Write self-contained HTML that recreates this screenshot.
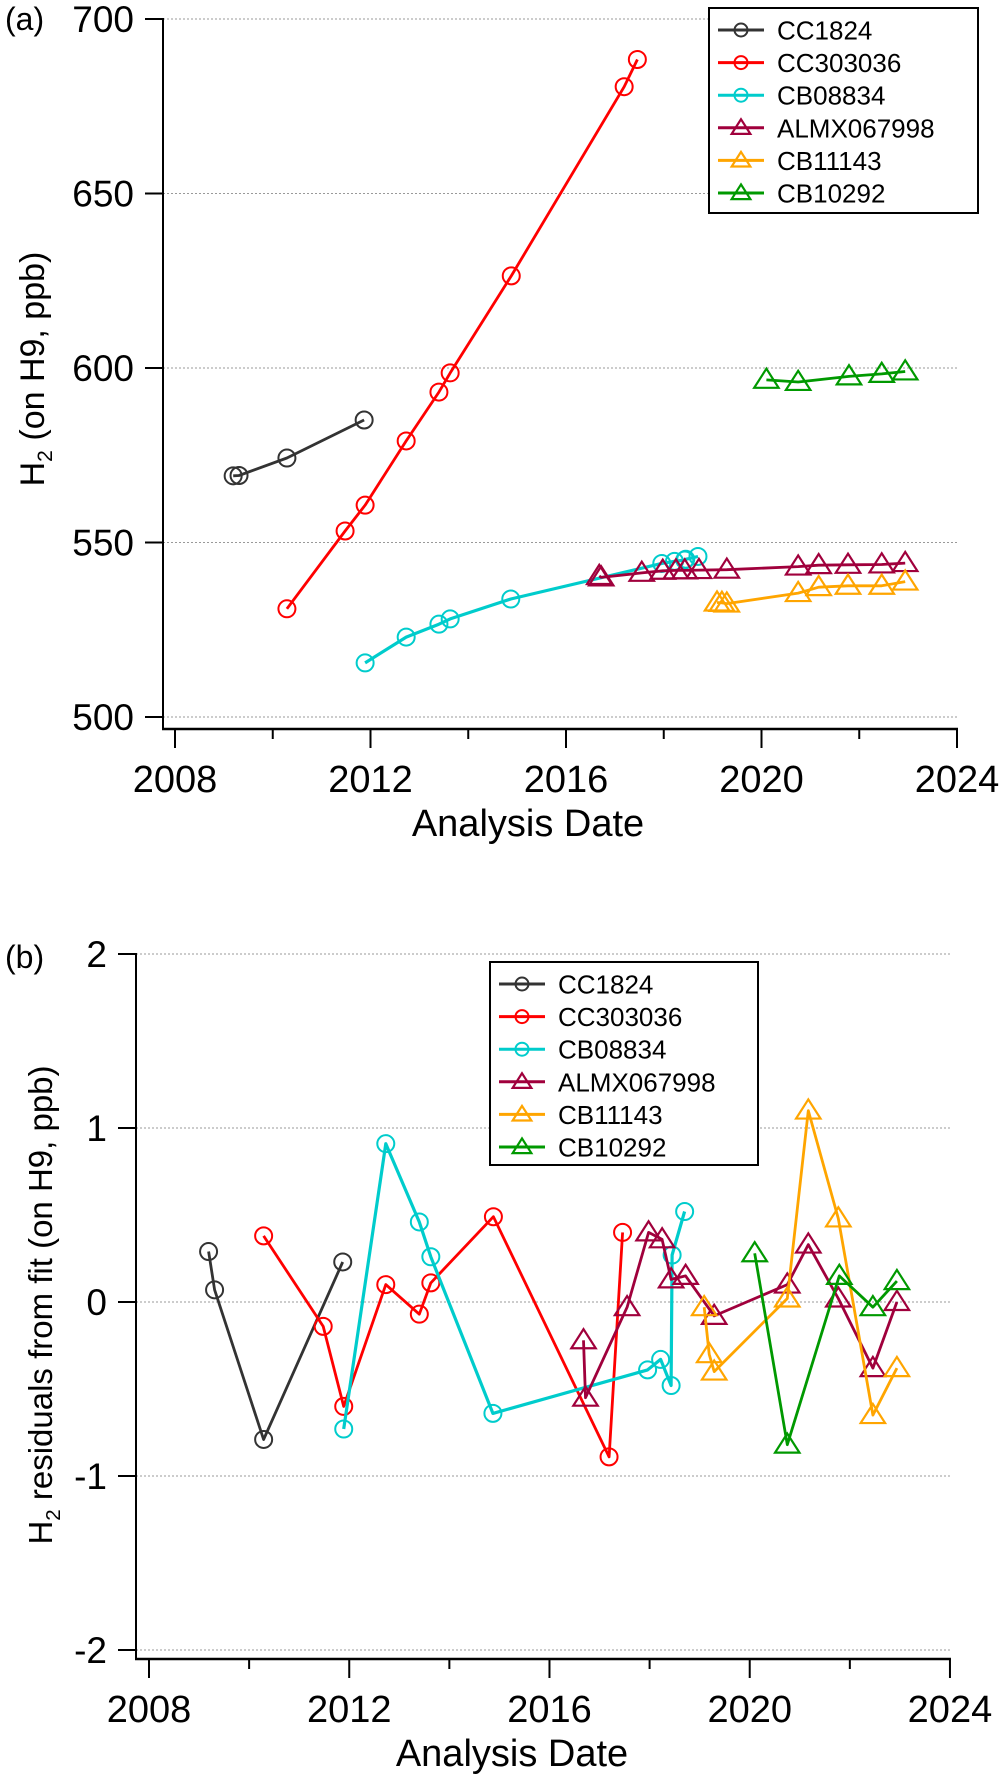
<!DOCTYPE html>
<html><head><meta charset="utf-8">
<style>
html,body{margin:0;padding:0;background:#fff;}
svg{display:block;font-family:"Liberation Sans",Arial,sans-serif;}
</style></head>
<body>
<svg id="fig" width="1004" height="1777" viewBox="0 0 1004 1777" xmlns="http://www.w3.org/2000/svg">
  <g id="panelA"></g>
  <g id="panelB"></g>
</svg>
<script>
// ---------- data ----------
const seriesNames = ["CC1824","CC303036","CB08834","ALMX067998","CB11143","CB10292"];
const seriesColors = ["#333333","#ff0000","#00cccc","#a0003c","#ffa500","#009900"];
const seriesMarkers = ["circle","circle","circle","triangle","triangle","triangle"];

const yearsCC1824 = [2009.19,2009.31,2010.29,2011.87];
const yearsCC303036 = [2010.29,2011.48,2011.89,2012.73,2013.40,2013.63,2014.88,2017.19,2017.46];
const yearsCB08834 = [2011.89,2012.73,2013.40,2013.63,2014.87,2017.96,2018.22,2018.43,2018.45,2018.70];
const yearsALMX067998 = [2016.68,2016.72,2017.55,2017.98,2018.25,2018.43,2018.72,2019.29,2020.75,2021.17,2021.77,2022.46,2022.94];
const yearsCB11143 = [2019.09,2019.19,2019.29,2020.75,2021.17,2021.77,2022.46,2022.94];
const yearsCB10292 = [2020.10,2020.75,2021.79,2022.46,2022.94];

const h2CC1824 = [569.1,569.2,574.2,585.1];
const h2CC303036 = [531.0,553.3,560.7,579.1,593.1,598.6,626.4,680.6,688.4];
const h2CB08834 = [515.5,522.9,526.6,528.1,533.8,544.0,544.6,545.0,545.2,546.0];
const h2ALMX067998 = [540.4,540.0,541.3,541.9,542.0,542.0,542.1,542.2,543.1,543.5,543.6,543.7,544.1];
const h2CB11143 = [532.8,532.7,532.5,535.5,537.2,537.6,537.6,538.8];
const h2CB10292 = [596.6,596.0,597.6,598.3,599.0];

const resCC1824 = [0.29,0.07,-0.79,0.23];
const resCC303036 = [0.38,-0.14,-0.60,0.10,-0.07,0.11,0.49,-0.89,0.40];
const resCB08834 = [-0.73,0.91,0.46,0.26,-0.64,-0.39,-0.33,-0.48,0.27,0.52];
const resALMX067998 = [-0.22,-0.55,-0.03,0.40,0.36,0.13,0.15,-0.08,0.10,0.33,0.02,-0.38,0.00];
const resCB11143 = [-0.03,-0.30,-0.40,0.02,1.10,0.48,-0.65,-0.38];
const resCB10292 = [0.28,-0.82,0.15,-0.03,0.12];

const xTicksMajor = [2008,2012,2016,2020,2024];
const xTicksMinor = [2010,2014,2018,2022];
const yTicksA = [500,550,600,650,700];
const yTicksB = [-2,-1,0,1,2];

const allYears = [yearsCC1824,yearsCC303036,yearsCB08834,yearsALMX067998,yearsCB11143,yearsCB10292];
const allH2 = [h2CC1824,h2CC303036,h2CB08834,h2ALMX067998,h2CB11143,h2CB10292];
const allRes = [resCC1824,resCC303036,resCB08834,resALMX067998,resCB11143,resCB10292];

// ---------- helpers ----------
const NS = "http://www.w3.org/2000/svg";
function mk(parent, tag, attrs, text){
  const e = document.createElementNS(NS, tag);
  for (const k in attrs) e.setAttribute(k, attrs[k]);
  if (text !== undefined) e.textContent = text;
  parent.appendChild(e);
  return e;
}
function marker(g, type, cx, cy, color, r){
  let el;
  if (type === "circle"){
    el = mk(g, "circle", {cx:cx, cy:cy, r:r, fill:"none", stroke:color, "stroke-width":2});
  } else {
    const s = r*1.25;
    const pts = [[cx, cy - s*1.05],[cx - s*1.15, cy + s*0.75],[cx + s*1.15, cy + s*0.75]].map(p=>p.join(",")).join(" ");
    el = mk(g, "polygon", {points:pts, fill:"none", stroke:color, "stroke-width":2.2});
  }
  
  
  return el;
}

function drawPanel(cfg){
  const g = document.getElementById(cfg.id);
  const xs = v => cfg.x0 + (v - 2008) * cfg.xPerYear;
  const ys = v => cfg.yZero - (v - cfg.yRef) * cfg.yPerUnit;

  // gridlines
  cfg.yTicks.forEach(t=>{
    const gl = mk(g, "line", {x1:cfg.axisX, x2:xs(2024), y1:ys(t), y2:ys(t), stroke:"#999", "stroke-width":1, "stroke-dasharray":"2,2"});
    
    
  });
  // y axis
  const ya = mk(g, "line", {x1:cfg.axisX, x2:cfg.axisX, y1:ys(cfg.yTicks[cfg.yTicks.length-1])-1, y2:cfg.axisY+1, stroke:"#000", "stroke-width":2});
  
  
  cfg.yTicks.forEach(t=>{
    const tk = mk(g, "line", {x1:cfg.axisX-18, x2:cfg.axisX, y1:ys(t), y2:ys(t), stroke:"#000", "stroke-width":2});
    
    
    const lb = mk(g, "text", {x:cfg.axisX-29, y:ys(t)+13, "text-anchor":"end", "font-size":cfg.yTickFont, fill:"#000"}, String(t));
    
    
  });
  // x axis
  const xa = mk(g, "line", {x1:cfg.axisX-1, x2:xs(2024)+1, y1:cfg.axisY, y2:cfg.axisY, stroke:"#000", "stroke-width":2.5});
  
  
  xTicksMajor.forEach(t=>{
    const tk = mk(g, "line", {x1:xs(t), x2:xs(t), y1:cfg.axisY, y2:cfg.axisY+19, stroke:"#000", "stroke-width":2});
    
    
    const lb = mk(g, "text", {x:xs(t), y:cfg.axisY+63, "text-anchor":"middle", "font-size":38, fill:"#000"}, String(t));
    
    
  });
  xTicksMinor.forEach(t=>{
    const tk = mk(g, "line", {x1:xs(t), x2:xs(t), y1:cfg.axisY, y2:cfg.axisY+10, stroke:"#000", "stroke-width":2});
    
    
  });
  const xt = mk(g, "text", {x:cfg.xTitleX, y:cfg.axisY+107, "text-anchor":"middle", "font-size":38, fill:"#000"}, "Analysis Date");
  
  

  // y title
  const yt = mk(g, "text", {transform:"translate("+cfg.yTitleX+","+cfg.yTitleY+") rotate(-90)", "text-anchor":"middle", "font-size":cfg.yTitleFont, fill:"#000"});
  
  
  mk(yt, "tspan", {}, "H");
  mk(yt, "tspan", {"font-size":cfg.yTitleFont*0.62, dy:8}, "2");
  mk(yt, "tspan", {dy:-8}, cfg.yTitleRest);

  // panel letter
  const pl = mk(g, "text", {x:5, y:cfg.letterY, "font-size":32, fill:"#000"}, cfg.letter);
  
  

  // series
  for (let s=0; s<seriesNames.length; s++){
    const sg = mk(g, "g", {});
    
    
    const yrs = allYears[s], vals = cfg.values[s];
    const pts = yrs.map((y,i)=>xs(y).toFixed(1)+","+ys(vals[i]).toFixed(1)).join(" ");
    const pl2 = mk(sg, "polyline", {points:pts, fill:"none", stroke:seriesColors[s], "stroke-width":s===2?3.2:2.8, "stroke-linejoin":"round"});
    
    
    yrs.forEach((y,i)=>marker(sg, seriesMarkers[s], xs(y), ys(vals[i]), seriesColors[s], 8.5));
  }

  // legend
  const lg = mk(g, "g", {});
  
  
  const bx = mk(lg, "rect", {x:cfg.legX, y:cfg.legY, width:cfg.legW, height:cfg.legH, fill:"#fff", stroke:"#000", "stroke-width":2});
  
  
  for (let s=0; s<seriesNames.length; s++){
    const ry = cfg.legY + 22 + s*32.6;
    const eg = mk(lg, "g", {});
    
    
    mk(eg, "line", {x1:cfg.legX+9, x2:cfg.legX+55, y1:ry, y2:ry, stroke:seriesColors[s], "stroke-width":3});
    marker(eg, seriesMarkers[s], cfg.legX+32, ry, seriesColors[s], 6.5);
    const t = mk(eg, "text", {x:cfg.legX+68, y:ry+9.5, "font-size":26, fill:"#000"}, seriesNames[s]);
    
    
  }
}

drawPanel({
  id:"panelA", x0:175, xPerYear:48.875, yRef:600, yZero:368, yPerUnit:3.49,
  axisX:163, axisY:729, yTicks:yTicksA, yTickFont:37,
  xTitleX:528, yTitleX:44, yTitleY:369, yTitleFont:34, yTitleRest:" (on H9, ppb)",
  letter:"(a)", letterY:30, values:allH2,
  legX:709, legY:8, legW:269, legH:205
});
drawPanel({
  id:"panelB", x0:149, xPerYear:50.06, yRef:0, yZero:1302, yPerUnit:174,
  axisX:136, axisY:1659, yTicks:yTicksB, yTickFont:37,
  xTitleX:512, yTitleX:52, yTitleY:1305, yTitleFont:33, yTitleRest:" residuals from fit (on H9, ppb)",
  letter:"(b)", letterY:968, values:allRes,
  legX:490, legY:962, legW:268, legH:203
});
</script>
</body></html>
